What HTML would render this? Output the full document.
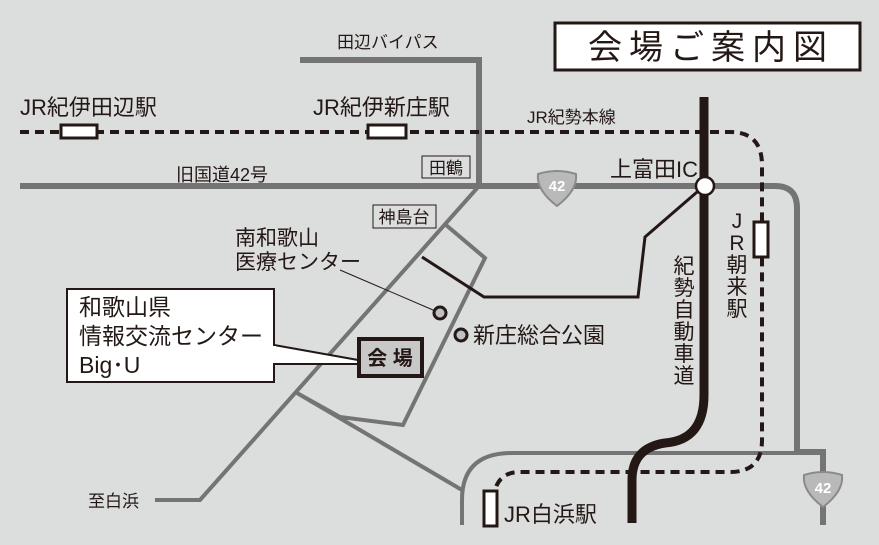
<!DOCTYPE html>
<html><head><meta charset="utf-8"><style>
html,body{margin:0;padding:0;background:#dcdddd;}
svg{display:block;}
text{font-family:"Liberation Sans","Noto Sans CJK JP",sans-serif;fill:#231815;}
</style></head><body>
<svg width="879" height="545" viewBox="0 0 879 545" xmlns="http://www.w3.org/2000/svg">
<rect width="879" height="545" fill="#dcdddd"/>
<rect x="555" y="23" width="305" height="47" fill="#fff" stroke="#231815" stroke-width="3"/>
<text x="711" y="59" font-size="34" text-anchor="middle" letter-spacing="7">会場ご案内図</text>

<g fill="none" stroke="#747474" stroke-width="6">
<path d="M300 60 H479 V186"/>
<path d="M20 186 H775 Q797 186 797 208 V452 H823 V525"/>
</g>
<g fill="none" stroke="#747474" stroke-width="4">
<path d="M797 453 H512 Q462 453 462 500 V525"/>
<path d="M479 186 L200 500 H155"/>
<path d="M446 225 L485 258 L403 425 L340 417 L297 393 L462 490"/>
</g>

<g fill="none" stroke="#231815" stroke-width="4" stroke-dasharray="9 6">
<path d="M20 132 H730 Q762 132 762 165 V440 Q762 472 730 472 H520 Q500 472 495 490"/>
</g>
<rect x="61" y="125" width="36" height="13" fill="#fff" stroke="#231815" stroke-width="3"/>
<rect x="368" y="125" width="38" height="13" fill="#fff" stroke="#231815" stroke-width="3"/>
<rect x="754" y="222" width="14" height="35" fill="#fff" stroke="#231815" stroke-width="3"/>
<rect x="484" y="491" width="13" height="35" fill="#fff" stroke="#231815" stroke-width="3"/>

<path d="M704 97 V395 Q704 440 665 443 Q632 448 632 480 V523" fill="none" stroke="#231815" stroke-width="9"/>
<path d="M704 186 L645 237 L638 297 H484 L422 257" fill="none" stroke="#231815" stroke-width="3"/>
<circle cx="705" cy="186" r="9" fill="#fff" stroke="#231815" stroke-width="2.5"/>

<g>
<path d="M538 174 Q557 168 576 174 Q578 190 557 206 Q536 190 538 174 Z" fill="#b9b9b9" stroke="#8a8a8a" stroke-width="2"/>
<text x="557" y="191" font-size="15" font-weight="bold" text-anchor="middle" style="fill:#fff">42</text>
<path d="M804 475 Q823 469 842 475 Q844 491 823 507 Q802 491 804 475 Z" fill="#b9b9b9" stroke="#8a8a8a" stroke-width="2"/>
<text x="823" y="493" font-size="15" font-weight="bold" text-anchor="middle" style="fill:#fff">42</text>
</g>

<text x="337" y="48" font-size="17">田辺バイパス</text>
<text x="20" y="115" font-size="22">JR紀伊田辺駅</text>
<text x="313" y="115" font-size="22">JR紀伊新庄駅</text>
<text x="527" y="123" font-size="17">JR紀勢本線</text>
<text x="176" y="181" font-size="18">旧国道42号</text>
<rect x="422" y="156" width="48" height="22" fill="none" stroke="#231815" stroke-width="1"/>
<text x="446" y="174" font-size="17" text-anchor="middle">田鶴</text>
<rect x="373" y="205" width="63" height="23" fill="none" stroke="#231815" stroke-width="1"/>
<text x="404" y="223" font-size="17" text-anchor="middle">神島台</text>
<text x="610" y="177" font-size="22">上富田IC</text>

<g font-size="21" text-anchor="middle">
<text x="684" y="273">紀</text><text x="684" y="295">勢</text><text x="684" y="317">自</text>
<text x="684" y="339">動</text><text x="684" y="361">車</text><text x="684" y="383">道</text>
<text x="737" y="228">J</text><text x="737" y="250">R</text><text x="737" y="272">朝</text>
<text x="737" y="294">来</text><text x="737" y="316">駅</text>
</g>

<text x="235" y="245" font-size="21">南和歌山</text>
<text x="235" y="269" font-size="21">医療センター</text>
<line x1="340" y1="270" x2="440" y2="313" stroke="#231815" stroke-width="1"/>
<circle cx="440" cy="313" r="6" fill="#c0c0c0" stroke="#231815" stroke-width="3"/>
<circle cx="461" cy="335" r="6" fill="#c0c0c0" stroke="#231815" stroke-width="3"/>
<text x="473" y="343" font-size="22">新庄総合公園</text>

<polygon points="274,345 358,360 358,364 274,364" fill="#fff" stroke="#231815" stroke-width="2"/>
<rect x="67" y="289" width="207" height="93" fill="#fff" stroke="#231815" stroke-width="2"/>
<rect x="272" y="346" width="4" height="17" fill="#fff"/>
<text x="79" y="315" font-size="23">和歌山県</text>
<text x="79" y="344" font-size="23">情報交流センター</text>
<text x="79" y="373" font-size="23">Big･U</text>
<rect x="359" y="339" width="63" height="37" fill="#c8c8c8" stroke="#231815" stroke-width="4"/>
<text x="390" y="365" font-size="20" font-weight="bold" text-anchor="middle">会 場</text>

<text x="88" y="507" font-size="17">至白浜</text>
<text x="504" y="522" font-size="22">JR白浜駅</text>
</svg>
</body></html>
